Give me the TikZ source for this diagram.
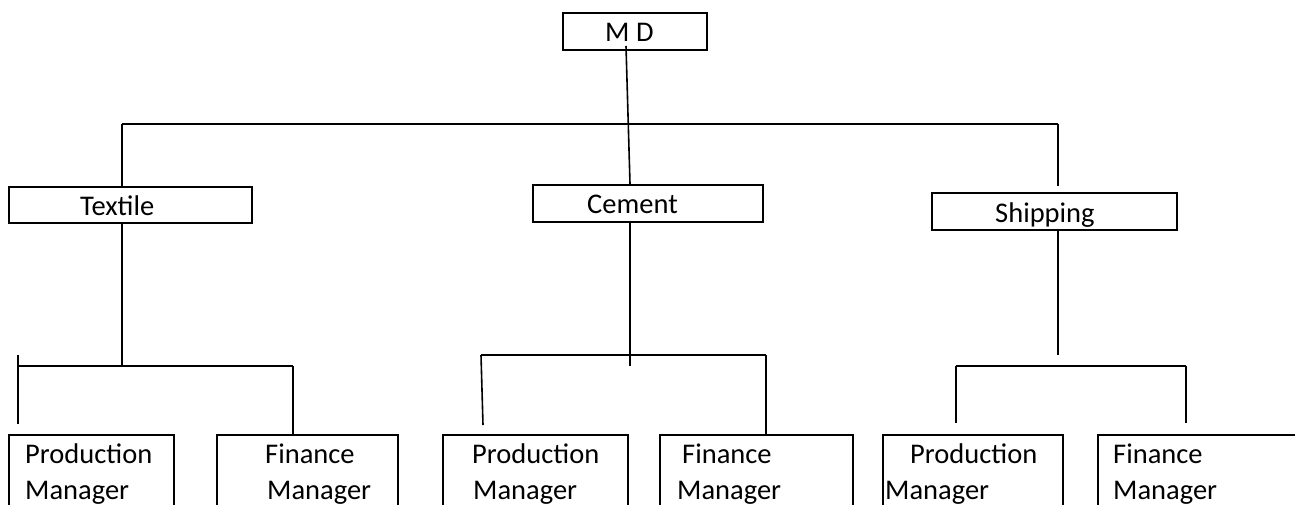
\documentclass[tikz,border=0pt]{standalone}
\usepackage{fontspec}
\setmainfont{Carlito}
\begin{document}
\begin{tikzpicture}[x=1pt,y=-1pt,
  box/.style={draw=black,line width=2.4pt,inner sep=0pt,minimum height=37pt},
  low/.style={box,minimum height=85pt},
  lbl/.style={anchor=base west,inner sep=0pt,font=\fontsize{28.5}{34}\selectfont},
  link/.style={draw=black,line width=1.6pt}]
\clip (0,0) rectangle (1295,504);
\fill[white] (0,0) rectangle (1295,504);

% top level
\node[box,minimum width=144pt] (md) at (635,31.5) {};
\node[lbl] (mdtxt) at (605,41) {M D};

% divisions
\node[box,minimum width=243pt,minimum height=36pt] (textile) at (130.5,205) {};
\node[lbl] (textiletxt) at (80,215) {Textile};
\node[box,minimum width=230pt] (cement) at (648,203.5) {};
\node[lbl] (cementtxt) at (587,213) {Cement};
\node[box,minimum width=245pt] (shipping) at (1054.5,211.5) {};
\node[lbl] (shippingtxt) at (995,222) {Shipping};

% managers
\node[low,minimum width=165pt] (tp) at (91.5,477.5) {};
\node[low,minimum width=181pt] (tf) at (307.5,477.5) {};
\node[low,minimum width=185pt] (cp) at (535.5,477.5) {};
\node[low,minimum width=193pt] (cf) at (756.5,477.5) {};
\node[low,minimum width=180pt] (sp) at (973,477.5) {};
\node[low,minimum width=212pt] (sf) at (1204,477.5) {};

\node[lbl] (tp1) at (25,463) {Production};
\node[lbl] (tp2) at (25,499) {Manager};
\node[lbl] (tf1) at (265,463) {Finance};
\node[lbl] (tf2) at (267,499) {Manager};
\node[lbl] (cp1) at (472,463) {Production};
\node[lbl] (cp2) at (473,499) {Manager};
\node[lbl] (cf1) at (682,463) {Finance};
\node[lbl] (cf2) at (677,499) {Manager};
\node[lbl] (sp1) at (910,463) {Production};
\node[lbl] (sp2) at (885,499) {Manager};
\node[lbl] (sf1) at (1113,463) {Finance};
\node[lbl] (sf2) at (1113,499) {Manager};

% junction points
\coordinate (mdfoot) at (626,46);
\coordinate (barL) at (122,124);
\coordinate (barR) at (1058,124);
\coordinate (shipTop) at (1058,186);
\coordinate (tJ) at (122,366);
\coordinate (tL) at (18,366);
\coordinate (tLtop) at (18,355);
\coordinate (tLend) at (18,424);
\coordinate (tR) at (293,366);
\coordinate (cJ) at (630,366);
\coordinate (cL) at (481,355);
\coordinate (cLend) at (483,425);
\coordinate (cR) at (766,355);
\coordinate (sJ) at (1058,355);
\coordinate (sL) at (956,366);
\coordinate (sLend) at (956,423);
\coordinate (sR) at (1186,366);
\coordinate (sRend) at (1186,423);

% MD to divisions
\draw[link] (mdfoot) -- (cement.north -| 630,0);
\draw[link] (barL) -- (barR);
\draw[link] (barL) -- (textile.north -| barL);
\draw[link] (barR) -- (shipTop);

% Textile branch
\draw[link] (textile.south -| tJ) -- (tJ);
\draw[link] (tL) -- (tR);
\draw[link] (tLtop) -- (tLend);
\draw[link] (tR) -- (tf.north -| tR);

% Cement branch
\draw[link] (cement.south -| cJ) -- (cJ);
\draw[link] (cL) -- (cR);
\draw[link] (cL) -- (cLend);
\draw[link] (cR) -- (cf.north -| cR);

% Shipping branch
\draw[link] (shipping.south -| sJ) -- (sJ);
\draw[link] (sL) -- (sR);
\draw[link] (sL) -- (sLend);
\draw[link] (sR) -- (sRend);
\end{tikzpicture}
\end{document}
